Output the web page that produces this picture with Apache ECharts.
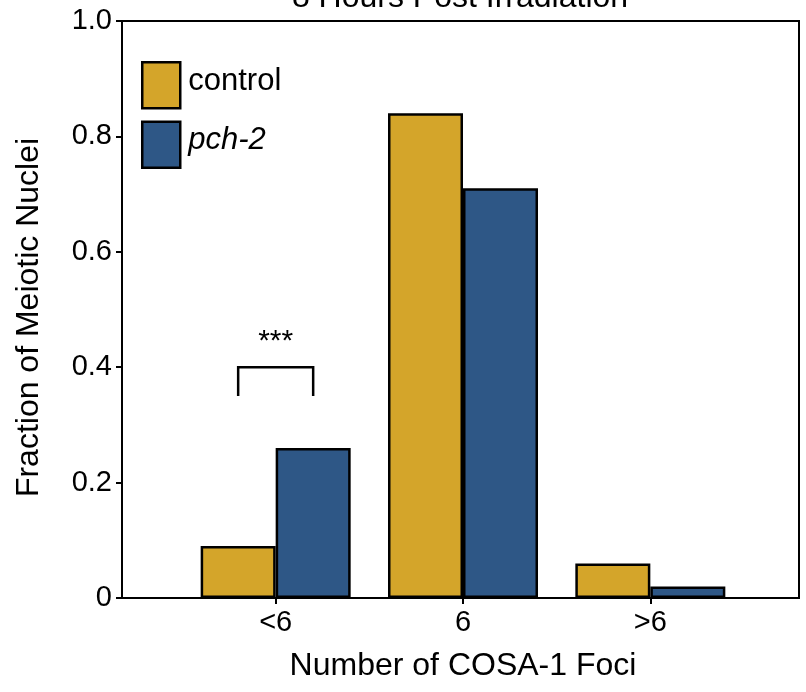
<!DOCTYPE html>
<html>
<head>
<meta charset="utf-8">
<script src="https://cdn.jsdelivr.net/npm/echarts@6/dist/echarts.min.js"></script>
<style>
  html, body { margin: 0; padding: 0; background: #fff; }
  #chart { width: 806px; height: 692px; }
</style>
</head>
<body>
<div id="chart"></div>
<script>
// Fraction of nuclei by COSA-1 focus count
const categories = ['<6', '6', '>6'];
const controlFrac = [0.09, 0.84, 0.06];
const pch2Frac = [0.26, 0.71, 0.02];
const yTickValues = [0, 0.2, 0.4, 0.6, 0.8, 1.0];

// Significance bracket over the first group
const sigGroup = 0;
const sigBracket = [0.35, 0.40];
const sigLabel = '***';

const FONT = "'Liberation Sans', Arial, Helvetica, sans-serif";
const BAR_W = 75;
const GOLD = '#D4A52A';
const BLUE = '#2E5786';

const chart = echarts.init(document.getElementById('chart'), null, { renderer: 'canvas' });

chart.setOption({
  backgroundColor: '#fff',
  animation: false,
  title: {
    text: '8 Hours Post Irradiation',
    left: 460,
    textAlign: 'center',
    top: -18,
    padding: 0,
    textStyle: { fontFamily: FONT, fontSize: 32, fontWeight: 'normal', color: '#000' }
  },
  legend: {
    orient: 'vertical',
    left: 141,
    top: 61,
    padding: 0,
    itemWidth: 38,
    itemHeight: 46,
    itemGap: 11,
    icon: 'rect',
    itemStyle: { borderColor: '#000', borderWidth: 2.5 },
    formatter: function (name) {
      return name === 'pch-2' ? '{i|pch-2}' : '{n|' + name + '}';
    },
    textStyle: {
      fontFamily: FONT,
      color: '#000',
      padding: [0, 0, 8, 3],
      rich: {
        n: { fontFamily: FONT, fontSize: 31, color: '#000' },
        i: { fontFamily: FONT, fontSize: 31, fontStyle: 'italic', color: '#000' }
      }
    },
    data: ['control', 'pch-2']
  },
  grid: [
    { // frame and value scale
      left: 122, right: 7, top: 21, bottom: 94,
      show: true, borderColor: '#000', borderWidth: 2, backgroundColor: 'transparent'
    },
    { // bar groups
      left: 182, width: 562, top: 21, bottom: 94
    }
  ],
  xAxis: [
    { gridIndex: 0, type: 'value', show: false, min: 0, max: 1 },
    {
      gridIndex: 1,
      type: 'category',
      data: categories,
      axisLine: { show: false },
      axisTick: { show: true, alignWithLabel: true, length: 6, lineStyle: { color: '#000', width: 2 } },
      axisLabel: { fontFamily: FONT, fontSize: 29, color: '#000', margin: 10 },
      name: 'Number of COSA-1 Foci',
      nameLocation: 'middle',
      nameGap: 52,
      nameTextStyle: { fontFamily: FONT, fontSize: 32, color: '#000' }
    }
  ],
  yAxis: [
    {
      gridIndex: 0,
      type: 'value',
      min: 0, max: 1, interval: 0.2,
      axisLine: { show: true, lineStyle: { color: '#000', width: 2 } },
      axisTick: { show: true, length: 6, lineStyle: { color: '#000', width: 2 } },
      splitLine: { show: false },
      axisLabel: {
        fontFamily: FONT, fontSize: 29, color: '#000', margin: 10,
        formatter: function (v) {
          const t = yTickValues.find(function (x) { return Math.abs(x - v) < 1e-9; });
          if (t === undefined) return '';
          return t === 0 ? '0' : t.toFixed(1);
        }
      },
      name: 'Fraction of Meiotic Nuclei',
      nameLocation: 'middle',
      nameGap: 77,
      nameRotate: 90,
      nameTextStyle: { fontFamily: FONT, fontSize: 32, color: '#000', padding: [0, 16, 0, 0] }
    },
    { gridIndex: 1, type: 'value', min: 0, max: 1, show: false }
  ],
  series: [
    {
      name: 'control',
      type: 'bar',
      xAxisIndex: 1, yAxisIndex: 1,
      data: controlFrac,
      barWidth: BAR_W,
      barGap: '0%',
      itemStyle: { color: GOLD, borderColor: '#000', borderWidth: 2.5 }
    },
    {
      name: 'pch-2',
      type: 'bar',
      xAxisIndex: 1, yAxisIndex: 1,
      data: pch2Frac,
      barWidth: BAR_W,
      barGap: '0%',
      itemStyle: { color: BLUE, borderColor: '#000', borderWidth: 2.5 }
    },
    {
      type: 'custom',
      xAxisIndex: 1, yAxisIndex: 1,
      silent: true,
      z: 5,
      data: [[sigGroup, sigBracket[0], sigBracket[1]]],
      renderItem: function (params, api) {
        const cx = api.coord([api.value(0), 0])[0];
        const yLow = api.coord([api.value(0), api.value(1)])[1];
        const yHigh = api.coord([api.value(0), api.value(2)])[1];
        const xl = cx - BAR_W / 2;
        const xr = cx + BAR_W / 2;
        return {
          type: 'group',
          children: [
            {
              type: 'polyline',
              shape: { points: [[xl, yLow], [xl, yHigh], [xr, yHigh], [xr, yLow]] },
              style: { stroke: '#000', lineWidth: 2.5, fill: null }
            },
            {
              type: 'text',
              style: {
                x: cx, y: yHigh - 10,
                text: sigLabel,
                textAlign: 'center',
                textVerticalAlign: 'bottom',
                fontFamily: FONT, fontSize: 30, fill: '#000'
              }
            }
          ]
        };
      }
    }
  ]
});
</script>
</body>
</html>
